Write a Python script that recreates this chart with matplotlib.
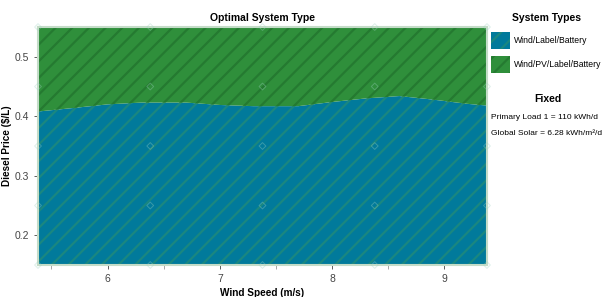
import matplotlib.pyplot as plt
from matplotlib.patches import Rectangle

# Boundary between optimal system types (diesel price vs wind speed)
wind = [5.38, 5.7, 6.0, 6.3, 6.7, 7.0, 7.3, 7.7, 8.0, 8.3, 8.6, 8.9, 9.2, 9.38]
boundary = [0.408, 0.414, 0.420, 0.423, 0.423, 0.419, 0.417, 0.417,
            0.424, 0.430, 0.434, 0.428, 0.421, 0.418]

# Sensitivity cases (faint diamond markers)
sens_wind = [5.38, 6.38, 7.38, 8.38, 9.38]
sens_price = [0.15, 0.25, 0.35, 0.45, 0.55]

types = ["Wind/Label/Battery", "Wind/PV/Label/Battery"]
fixed = ["Primary Load 1 = 110 kWh/d", "Global Solar = 6.28 kWh/m\u00b2/d"]

fill_cols = ["#017a9b", "#2f8f3b"]
hatch_cols = ["#1a8780", "#257a31"]

plt.rcParams['font.family'] = ['Liberation Sans Narrow', 'Liberation Sans', 'DejaVu Sans']
plt.rcParams['hatch.linewidth'] = 1.6

fig = plt.figure(figsize=(6.11, 2.97), dpi=100)
ax = fig.add_axes([0.0622, 0.1077, 0.7348, 0.8013])

xmin, xmax = wind[0], wind[-1]
ymin, ymax = 0.15, 0.55

ax.fill_between(wind, ymin, boundary, facecolor=fill_cols[0], edgecolor=hatch_cols[0],
                hatch='//', linewidth=0)
ax.fill_between(wind, boundary, ymax, facecolor=fill_cols[1], edgecolor=hatch_cols[1],
                hatch='//', linewidth=0)

sx = [x for x in sens_wind for y in sens_price]
sy = [y for x in sens_wind for y in sens_price]
ax.scatter(sx, sy, marker='D', s=12, facecolor='none', edgecolor='#9fd4c4',
           linewidth=0.7, alpha=0.35, zorder=3, clip_on=False)

ax.set_xlim(xmin, xmax)
ax.set_ylim(ymin, ymax)
ax.set_xticks([6, 7, 8, 9])
ax.set_xticks([5.5, 6.5, 7.5, 8.5], minor=True)
ax.set_yticks([0.2, 0.3, 0.4, 0.5])
ax.tick_params(colors='#444444', labelsize=7.5, length=3, width=0.6)
ax.tick_params(which='minor', length=3, width=0.6, color='#999999')
for s in ax.spines.values():
    s.set_color('#c4dcc8')
    s.set_linewidth(1.5)

ax.set_title("Optimal System Type", fontsize=7.5, fontweight='bold', pad=4)
ax.set_xlabel("Wind Speed (m/s)", fontsize=7.2, fontweight='bold')
ax.set_ylabel("Diesel Price ($/L)", fontsize=7.2, fontweight='bold')
ax.xaxis.set_label_coords(0.5, -0.095)
ax.yaxis.set_label_coords(-0.058, 0.5)

# legend on the right
fig.text(0.895, 0.94, "System Types", fontsize=7.5, fontweight='bold', ha='center', va='center')
for i, name in enumerate(types):
    yb = 0.835 - i * 0.082
    fig.add_artist(Rectangle((0.803, yb), 0.032, 0.058, transform=fig.transFigure,
                             facecolor=fill_cols[i], edgecolor=hatch_cols[i],
                             hatch='//', linewidth=0))
    fig.text(0.842, yb + 0.029, name, fontsize=6.2, ha='left', va='center')

fig.text(0.897, 0.665, "Fixed", fontsize=7.5, fontweight='bold', ha='center', va='center')
for i, t in enumerate(fixed):
    fig.text(0.803, 0.605 - i * 0.055, t, fontsize=6.0, ha='left', va='center')

fig.savefig("out.png", dpi=100)
